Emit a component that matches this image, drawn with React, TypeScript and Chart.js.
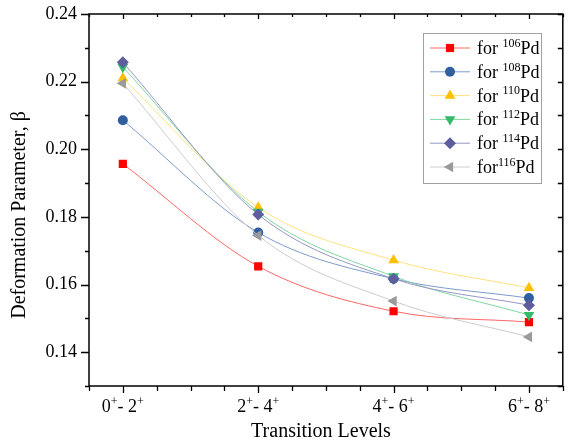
import React, { useEffect, useRef } from 'react';
import { Chart, registerables } from 'chart.js';
import { drawPoint } from 'chart.js/helpers';

Chart.register(...registerables);

// ---- data ----
const categories = ['0+- 2+', '2+- 4+', '4+- 6+', '6+- 8+'];
const isotopes = ['106', '108', '110', '112', '114', '116'];
const legendPrefix = ['for ', 'for ', 'for ', 'for ', 'for ', 'for'];
const pd106 = [0.1957, 0.1654, 0.1521, 0.1489];
const pd108 = [0.2086, 0.1754, 0.1617, 0.1560];
const pd110 = [0.2210, 0.1828, 0.1672, 0.1590];
const pd112 = [0.2243, 0.1815, 0.1624, 0.1510];
const pd114 = [0.2257, 0.1807, 0.1617, 0.1539];
const pd116 = [0.2195, 0.1745, 0.1551, 0.1445];
const yTickValues = [0.13, 0.14, 0.15, 0.16, 0.17, 0.18, 0.19, 0.2, 0.21, 0.22, 0.23, 0.24];
const yLabelTicks = [0.14, 0.16, 0.18, 0.2, 0.22, 0.24];

const series = [pd106, pd108, pd110, pd112, pd114, pd116];
const markerColors = ['#ff0000', '#2f5f9f', '#ffc000', '#33bb6a', '#5e5e9e', '#9a9a9a'];
const lineColors = ['#ff6666', '#7d9bcb', '#ffe27f', '#80d6a2', '#9696c6', '#cccccc'];
const pointStyles = ['rect', 'circle', 'triangle', 'triangle', 'rectRot', 'triangle'];
const rotations = [0, 0, 0, 180, 0, -90];
const radii = [5.8, 5, 6.2, 6.2, 6, 6.2];

const FONT = '"Liberation Serif", "Times New Roman", serif';

type Part = { t: string; sup: boolean };

function catParts(s: string): Part[] {
  const out: Part[] = [];
  let buf = '';
  for (const ch of s) {
    if (ch === '+') {
      if (buf) out.push({ t: buf, sup: false });
      buf = '';
      out.push({ t: '+', sup: true });
    } else buf += ch;
  }
  if (buf) out.push({ t: buf, sup: false });
  return out;
}

function drawParts(ctx: CanvasRenderingContext2D, parts: Part[], x: number, y: number, align: 'left' | 'center', size: number) {
  const supSize = Math.round(size * 0.66);
  ctx.textBaseline = 'alphabetic';
  ctx.textAlign = 'left';
  let total = 0;
  const widths = parts.map((p) => {
    ctx.font = `${p.sup ? supSize : size}px ${FONT}`;
    const w = ctx.measureText(p.t).width;
    total += w;
    return w;
  });
  let cx = align === 'center' ? x - total / 2 : x;
  parts.forEach((p, i) => {
    ctx.font = `${p.sup ? supSize : size}px ${FONT}`;
    ctx.fillText(p.t, cx, p.sup ? y - size * 0.4 : y);
    cx += widths[i];
  });
}

const framePlugin = {
  id: 'frame',
  afterDraw(chart: any) {
    const { ctx, chartArea: a, scales } = chart;
    const x = scales.x;
    const y = scales.y;
    ctx.save();
    ctx.strokeStyle = '#000';
    ctx.fillStyle = '#000';
    // frame
    ctx.lineWidth = 1.5;
    ctx.strokeRect(a.left, a.top, a.right - a.left, a.bottom - a.top);
    ctx.lineWidth = 1.3;
    ctx.beginPath();
    for (let k = 0; k <= 14; k++) {
      const v = -0.25 + k * 0.25;
      const px = Math.round(x.getPixelForValue(v)) + 0.5;
      const major = Math.abs(v - Math.round(v)) < 1e-6;
      const lb = major ? 7 : 5;
      const lt = major ? 5 : 3;
      ctx.moveTo(px, a.bottom);
      ctx.lineTo(px, a.bottom + lb);
      ctx.moveTo(px, a.top);
      ctx.lineTo(px, a.top + lt);
    }
    yTickValues.forEach((v) => {
      const py = Math.round(y.getPixelForValue(v)) + 0.5;
      const major = yLabelTicks.some((t) => Math.abs(t - v) < 1e-6);
      ctx.moveTo(a.left, py);
      ctx.lineTo(a.left - (major ? 8 : 4), py);
      ctx.moveTo(a.right, py);
      ctx.lineTo(a.right - 5, py);
    });
    ctx.stroke();

    // x tick labels
    categories.forEach((c, i) => {
      drawParts(ctx, catParts(c), x.getPixelForValue(i), 412, 'center', 18);
    });

    // axis titles
    ctx.font = `20px ${FONT}`;
    ctx.textAlign = 'center';
    ctx.textBaseline = 'middle';
    ctx.fillText('Transition Levels', 321, 432);
    ctx.save();
    ctx.translate(20, 215);
    ctx.rotate(-Math.PI / 2);
    ctx.fillText('Deformation Parameter, \u03B2', 0, 0);
    ctx.restore();

    // legend
    const bx = 423.5, by = 33.5, bw = 118, bh = 150;
    ctx.fillStyle = '#fff';
    ctx.fillRect(bx, by, bw, bh);
    ctx.strokeStyle = '#a0a0a0';
    ctx.lineWidth = 1;
    ctx.strokeRect(bx, by, bw, bh);
    isotopes.forEach((iso, i) => {
      const ry = 48 + i * 23.8;
      ctx.strokeStyle = lineColors[i];
      ctx.lineWidth = 1;
      ctx.beginPath();
      ctx.moveTo(430, ry);
      ctx.lineTo(470, ry);
      ctx.stroke();
      ctx.fillStyle = markerColors[i];
      ctx.strokeStyle = markerColors[i];
      drawPoint(ctx, { pointStyle: pointStyles[i], rotation: rotations[i], radius: radii[i], borderWidth: 0 } as any, 450, ry);
      ctx.fillStyle = '#000';
      drawParts(ctx, [
        { t: legendPrefix[i], sup: false },
        { t: iso, sup: true },
        { t: 'Pd', sup: false },
      ], 477, ry + 6, 'left', 18);
    });
    ctx.restore();
  },
};

export default function App() {
  const ref = useRef<HTMLCanvasElement | null>(null);
  useEffect(() => {
    document.body.style.margin = '0';
    if (!ref.current) return;
    const chart = new Chart(ref.current, {
      type: 'line',
      data: {
        datasets: series.map((s, i) => ({
          label: 'for ' + isotopes[i] + 'Pd',
          data: s.map((v, j) => ({ x: j, y: v })),
          borderColor: lineColors[i],
          backgroundColor: markerColors[i],
          pointBackgroundColor: markerColors[i],
          pointBorderColor: markerColors[i],
          pointBorderWidth: 0,
          borderWidth: 1,
          pointStyle: pointStyles[i] as any,
          rotation: rotations[i],
          pointRadius: radii[i],
          cubicInterpolationMode: 'monotone' as const,
          order: series.length - i,
          fill: false,
        })),
      },
      options: {
        animation: false,
        responsive: false,
        maintainAspectRatio: false,
        layout: { padding: { top: 14, right: 3, left: 0, bottom: 0 } },
        plugins: { legend: { display: false }, tooltip: { enabled: false } },
        scales: {
          x: {
            type: 'linear',
            min: -0.25,
            max: 3.25,
            ticks: { display: false, stepSize: 0.25 },
            grid: { display: false },
            border: { display: false },
            afterFit: (s: any) => { s.height = 59; s.paddingLeft = 0; s.paddingRight = 0; },
          },
          y: {
            type: 'linear',
            min: 0.13,
            max: 0.24,
            ticks: {
              stepSize: 0.01,
              color: '#000',
              padding: 12,
              font: { family: FONT, size: 18 },
              callback: (v: any) => {
                const n = Number(v);
                return yLabelTicks.some((t) => Math.abs(t - n) < 1e-6) ? n.toFixed(2) : '';
              },
            },
            grid: { display: true, drawOnChartArea: false, drawTicks: false },
            border: { display: false },
            afterFit: (s: any) => { s.width = 89; s.paddingTop = 0; s.paddingBottom = 0; },
          },
        },
      },
      plugins: [framePlugin],
    });
    return () => chart.destroy();
  }, []);
  return <canvas ref={ref} width={569} height={445} style={{ display: 'block' }} />;
}
